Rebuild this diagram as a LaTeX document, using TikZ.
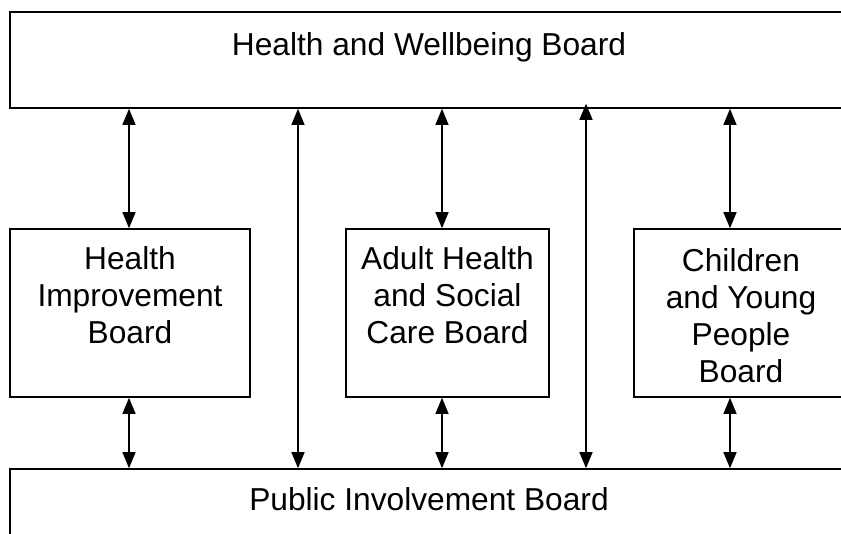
\documentclass[tikz,border=0pt]{standalone}
\usepackage{fontspec}
\setmainfont{Liberation Sans}
\usetikzlibrary{positioning, calc, arrows.meta}

\tikzset{
    board/.style = {draw, line width = 1.6pt, inner sep = 0pt},
    boardtext/.style = {inner sep = 0pt, align = center, font = \fontsize{31.7}{37}\selectfont},
    biarrow/.style = {line width = 1.2pt, {Triangle[length=16pt,width=13pt]}-{Triangle[length=16pt,width=13pt]}}
}

\begin{document}
\begin{tikzpicture}[x = 1pt, y = 1pt]
                    \clip (0,0) rectangle (841,533);
                    % boards
                    \node[board, minimum width = 838pt, minimum height = 96pt] (hwb) at (429,473) {};
                    \node[board, minimum width = 240pt, minimum height = 168pt] (hib) at (130,220) {};
                    \node[board, minimum width = 203pt, minimum height = 168pt] (ahs) at (447.5,220) {};
                    \node[board, minimum width = 214pt, minimum height = 168pt] (cyp) at (741,220) {};
                    \node[board, minimum width = 838pt, minimum height = 96pt] (pib) at (429,16) {};
                    % texts
                    \node[boardtext, anchor = base] (hwbtext) at (429,477) {Health and Wellbeing Board};
                    \node[boardtext, anchor = north] (hibtext) at (130,287) {Health\\ Improvement\\ Board};
                    \node[boardtext, anchor = north] (ahstext) at (447.5,287) {Adult Health\\ and Social\\ Care Board};
                    \node[boardtext, anchor = north] (cyptext) at (741,285) {Children\\ and Young\\ People\\ Board};
                    \node[boardtext, anchor = base] (pibtext) at (429,23) {Public Involvement Board};
                    % arrow positions
                    \coordinate (a1) at (129,0);
                    \coordinate (a2) at (298,0);
                    \coordinate (a3) at (442,0);
                    \coordinate (a4) at (586,0);
                    \coordinate (a5) at (730,0);
                    \draw[biarrow] (hwb.south -| a1) -- (hib.north -| a1);
                    \draw[biarrow] (hib.south -| a1) -- (pib.north -| a1);
                    \draw[biarrow] (hwb.south -| a2) -- (pib.north -| a2);
                    \draw[biarrow] (hwb.south -| a3) -- (ahs.north -| a3);
                    \draw[biarrow] (ahs.south -| a3) -- (pib.north -| a3);
                    \draw[biarrow, shorten <= -5pt] (hwb.south -| a4) -- (pib.north -| a4);
                    \draw[biarrow] (hwb.south -| a5) -- (cyp.north -| a5);
                    \draw[biarrow] (cyp.south -| a5) -- (pib.north -| a5);
                \end{tikzpicture}
\end{document}
